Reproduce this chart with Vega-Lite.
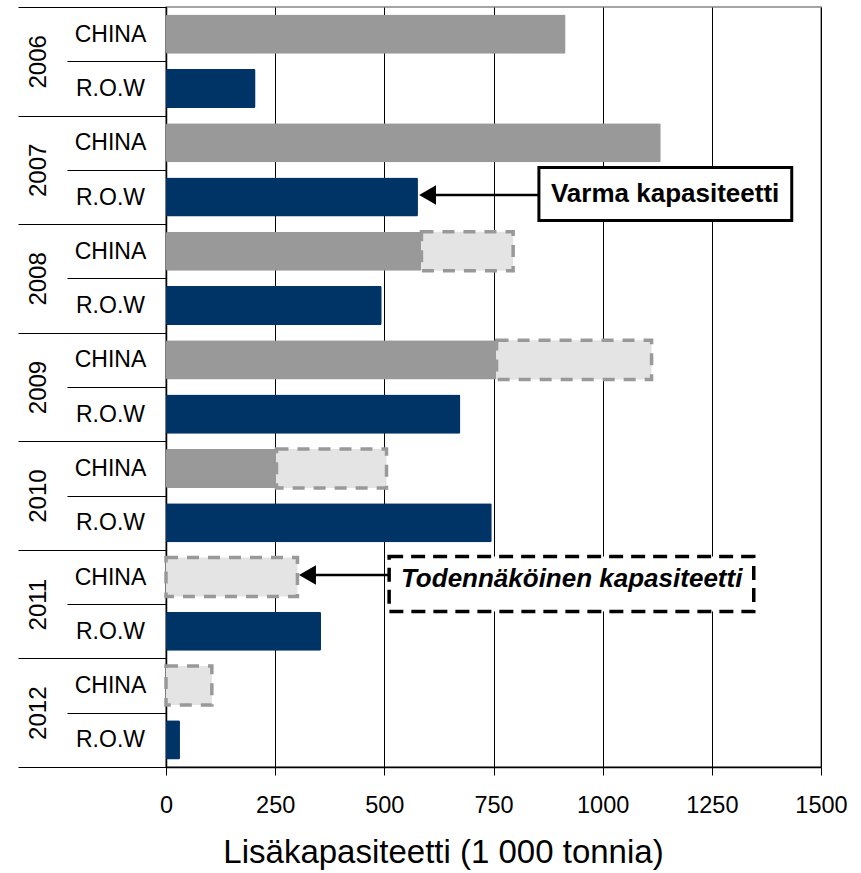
{
  "$schema": "https://vega.github.io/schema/vega-lite/v6.json",
  "width": 655,
  "height": 760,
  "autosize": {"type": "none"},
  "padding": {"left": 166, "top": 7, "right": 40, "bottom": 106},
  "background": "white",
  "config": {"font": "Liberation Sans", "view": {"stroke": "#888888", "strokeWidth": 1.5}},
  "datasets": {
    "bars": [
      {"year": "2006", "cat": "CHINA", "key": "2006|CHINA", "firm": 915, "total": 915},
      {"year": "2006", "cat": "R.O.W", "key": "2006|R.O.W", "firm": 205, "total": 205},
      {"year": "2007", "cat": "CHINA", "key": "2007|CHINA", "firm": 1133, "total": 1133},
      {"year": "2007", "cat": "R.O.W", "key": "2007|R.O.W", "firm": 577, "total": 577},
      {"year": "2008", "cat": "CHINA", "key": "2008|CHINA", "firm": 585, "total": 795},
      {"year": "2008", "cat": "R.O.W", "key": "2008|R.O.W", "firm": 494, "total": 494},
      {"year": "2009", "cat": "CHINA", "key": "2009|CHINA", "firm": 757, "total": 1112},
      {"year": "2009", "cat": "R.O.W", "key": "2009|R.O.W", "firm": 674, "total": 674},
      {"year": "2010", "cat": "CHINA", "key": "2010|CHINA", "firm": 253, "total": 505},
      {"year": "2010", "cat": "R.O.W", "key": "2010|R.O.W", "firm": 746, "total": 746},
      {"year": "2011", "cat": "CHINA", "key": "2011|CHINA", "firm": 0, "total": 301},
      {"year": "2011", "cat": "R.O.W", "key": "2011|R.O.W", "firm": 355, "total": 355},
      {"year": "2012", "cat": "CHINA", "key": "2012|CHINA", "firm": 0, "total": 105},
      {"year": "2012", "cat": "R.O.W", "key": "2012|R.O.W", "firm": 32, "total": 32}
    ],
    "years": [
      {"year": "2006"}, {"year": "2007"}, {"year": "2008"}, {"year": "2009"},
      {"year": "2010"}, {"year": "2011"}, {"year": "2012"}
    ],
    "notes": [
      {"label": "Varma kapasiteetti", "kind": "varma", "key": "2007|R.O.W", "bx1": 854, "bx2": 1433, "tx": 1143, "head": 599},
      {"label": "Todennäköinen kapasiteetti", "kind": "tod", "key": "2011|CHINA", "bx1": 511, "bx2": 1346, "tx": 929, "head": 324}
    ]
  },
  "layer": [
    {
      "encoding": {
        "y": {
          "field": "key",
          "type": "nominal",
          "scale": {
            "domain": ["2006|CHINA", "2006|R.O.W", "2007|CHINA", "2007|R.O.W", "2008|CHINA", "2008|R.O.W", "2009|CHINA", "2009|R.O.W", "2010|CHINA", "2010|R.O.W", "2011|CHINA", "2011|R.O.W", "2012|CHINA", "2012|R.O.W"],
            "paddingInner": 0,
            "paddingOuter": 0
          },
          "axis": {
            "title": null,
            "orient": "left",
            "labelExpr": "split(datum.value, '|')[1]",
            "tickBand": "extent",
            "tickSize": 99,
            "tickColor": "#000000",
            "tickWidth": 1.2,
            "domainColor": "#000000",
            "domainWidth": 1.5,
            "labelAlign": "center",
            "labelBaseline": "middle",
            "labelPadding": -43,
            "labelFontSize": 23,
            "labelColor": "#000000",
            "labelAngle": 0,
            "labelOverlap": false,
            "labelBound": false
          }
        }
      },
      "layer": [
        {
          "data": {"name": "bars"},
          "transform": [{"filter": "datum.firm > 0"}],
          "mark": {"type": "bar", "height": {"band": 0.72}, "cornerRadius": 1.5},
          "encoding": {
            "x": {
              "field": "firm",
              "type": "quantitative",
              "scale": {"domain": [0, 1500], "nice": false, "zero": true},
              "title": "Lisäkapasiteetti (1 000 tonnia)",
              "axis": {
                "values": [0, 250, 500, 750, 1000, 1250, 1500],
                "format": "d",
                "grid": true,
                "gridColor": "#000000",
                "gridWidth": 1,
                "domainColor": "#000000",
                "domainWidth": 1.5,
                "tickColor": "#000000",
                "tickSize": 8,
                "labelFontSize": 23.5,
                "labelColor": "#000000",
                "labelPadding": 18,
                "labelFlush": false,
                "labelOverlap": false,
                "titleFontSize": 33,
                "titleFontWeight": "normal",
                "titleColor": "#000000",
                "titlePadding": 20,
                "titleX": 277,
                "titleAlign": "center",
                "titleAnchor": null
              }
            },
            "color": {
              "field": "cat",
              "type": "nominal",
              "scale": {"domain": ["CHINA", "R.O.W"], "range": ["#999999", "#003366"]},
              "legend": null
            }
          }
        },
        {
          "data": {"name": "bars"},
          "transform": [{"filter": "datum.total > datum.firm"}],
          "mark": {"type": "bar", "height": {"band": 0.72}, "fill": "#e4e4e4", "stroke": "#999999", "strokeWidth": 3.5, "strokeDash": [12, 9]},
          "encoding": {
            "x": {"field": "firm", "type": "quantitative"},
            "x2": {"field": "total"}
          }
        },
        {
          "data": {"name": "notes"},
          "mark": {"type": "rule", "color": "#000000", "strokeWidth": 2.5, "yOffset": -2},
          "encoding": {
            "x": {"field": "head", "type": "quantitative"},
            "x2": {"field": "bx1"}
          }
        },
        {
          "data": {"name": "notes"},
          "mark": {"type": "point", "shape": "triangle-left", "filled": true, "color": "#000000", "opacity": 1, "size": 380, "yOffset": -2},
          "encoding": {
            "x": {"field": "head", "type": "quantitative"}
          }
        },
        {
          "data": {"name": "notes"},
          "transform": [{"filter": "datum.kind == 'varma'"}],
          "mark": {"type": "bar", "height": 53, "yOffset": -3, "fill": "#ffffff", "stroke": "#000000", "strokeWidth": 3},
          "encoding": {
            "x": {"field": "bx1", "type": "quantitative"},
            "x2": {"field": "bx2"}
          }
        },
        {
          "data": {"name": "notes"},
          "transform": [{"filter": "datum.kind == 'tod'"}],
          "mark": {"type": "bar", "height": 55, "yOffset": 7, "fill": "#ffffff", "stroke": "#000000", "strokeWidth": 3.5, "strokeDash": [14, 8]},
          "encoding": {
            "x": {"field": "bx1", "type": "quantitative"},
            "x2": {"field": "bx2"}
          }
        },
        {
          "data": {"name": "notes"},
          "transform": [{"filter": "datum.kind == 'varma'"}],
          "mark": {"type": "text", "fontSize": 26, "fontWeight": "bold", "color": "#000000", "align": "center", "baseline": "middle", "yOffset": -3},
          "encoding": {
            "x": {"field": "tx", "type": "quantitative"},
            "text": {"field": "label"}
          }
        },
        {
          "data": {"name": "notes"},
          "transform": [{"filter": "datum.kind == 'tod'"}],
          "mark": {"type": "text", "fontSize": 26, "fontWeight": "bold", "fontStyle": "italic", "color": "#000000", "align": "center", "baseline": "middle", "yOffset": 2},
          "encoding": {
            "x": {"field": "tx", "type": "quantitative"},
            "text": {"field": "label"}
          }
        }
      ]
    },
    {
      "data": {"name": "years"},
      "mark": {"type": "point", "opacity": 0},
      "encoding": {
        "y": {
          "field": "year",
          "type": "nominal",
          "scale": {"paddingInner": 0, "paddingOuter": 0},
          "axis": {
            "title": null,
            "orient": "left",
            "tickBand": "extent",
            "tickSize": 148,
            "tickColor": "#000000",
            "tickWidth": 1.2,
            "domain": false,
            "labelAngle": -90,
            "labelAlign": "center",
            "labelBaseline": "middle",
            "labelPadding": -20,
            "labelFontSize": 24,
            "labelColor": "#000000",
            "labelOverlap": false,
            "labelBound": false
          }
        }
      }
    }
  ],
  "resolve": {"scale": {"y": "independent"}, "axis": {"y": "independent"}}
}
